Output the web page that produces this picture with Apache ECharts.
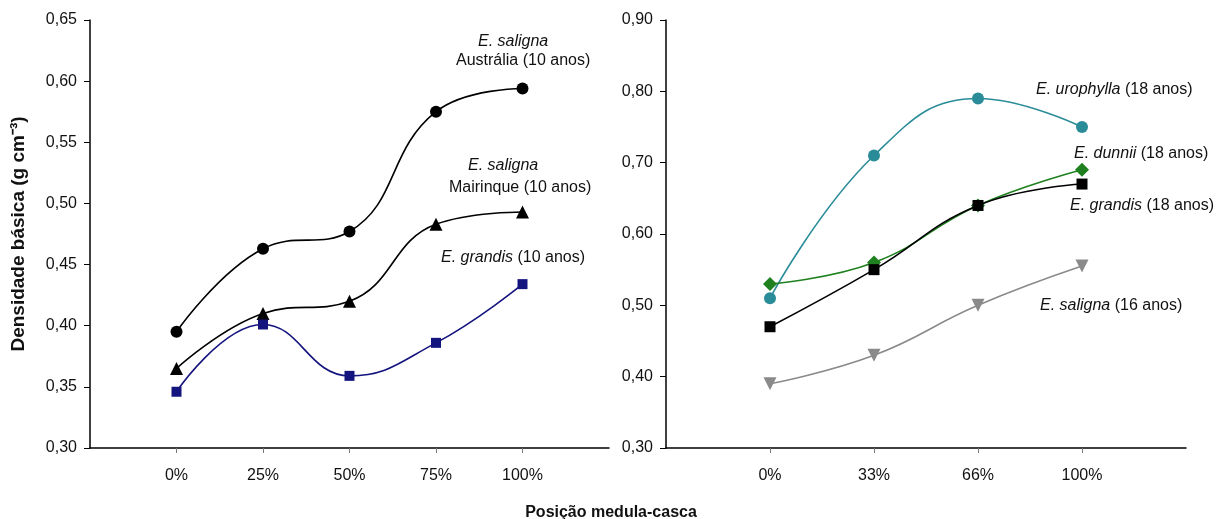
<!DOCTYPE html>
<html>
<head>
<meta charset="utf-8">
<script src="https://cdn.jsdelivr.net/npm/echarts@6/dist/echarts.min.js"></script>
<style>
html,body{margin:0;padding:0;background:#fff;}
#c{width:1222px;height:519px;}
</style>
</head>
<body>
<div id="c"></div>
<script>
// ---- data ----
const leftCategories = ['0%', '25%', '50%', '75%', '100%'];
const salignaAustralia = [0.395, 0.463, 0.477, 0.575, 0.594];
const salignaMairinque = [0.365, 0.410, 0.420, 0.483, 0.493];
const grandis10 = [0.346, 0.401, 0.359, 0.386, 0.434];

const rightCategories = ['0%', '33%', '66%', '100%'];
const urophylla18 = [0.510, 0.710, 0.790, 0.750];
const dunnii18 = [0.530, 0.560, 0.640, 0.690];
const grandis18 = [0.470, 0.550, 0.640, 0.670];
const saligna16 = [0.390, 0.430, 0.500, 0.555];

const leftYTicks = { min: 0.30, max: 0.65, interval: 0.05 };
const rightYTicks = { min: 0.30, max: 0.90, interval: 0.10 };

// ---- helpers ----
const FONT = "'Liberation Sans', Arial, sans-serif";
const pad = arr => [''].concat(arr, ['']);
const padVals = arr => [null].concat(arr);
const comma = v => v.toFixed(2).replace('.', ',');

function xAxis(cats, gridIndex) {
  const data = pad(cats);
  return {
    type: 'category', gridIndex, data, boundaryGap: false,
    axisLine: { lineStyle: { color: '#000', width: 1.5 } },
    axisTick: { show: true, length: 5, lineStyle: { color: '#777' },
      interval: (i) => i > 0 && i < data.length - 1 },
    axisLabel: { color: '#111', fontFamily: FONT, fontSize: 16, margin: 20,
      interval: 0 },
    splitLine: { show: false }
  };
}
function yAxis(t, gridIndex, extra) {
  return Object.assign({
    type: 'value', gridIndex, min: t.min, max: t.max, interval: t.interval,
    axisLine: { show: true, lineStyle: { color: '#000', width: 1.5 } },
    axisTick: { show: true, length: 6, lineStyle: { color: '#000' } },
    axisLabel: { color: '#111', fontFamily: FONT, fontSize: 16, margin: 13, formatter: comma },
    splitLine: { show: false }
  }, extra || {});
}
function line(name, vals, axisIdx, color, symbol, size, extra) {
  return Object.assign({
    name, type: 'line', xAxisIndex: axisIdx, yAxisIndex: axisIdx,
    data: padVals(vals), smooth: 0.45, symbol, symbolSize: size,
    lineStyle: { color, width: 1.6 }, itemStyle: { color },
    connectNulls: false
  }, extra || {});
}

function note(x, y, ital, rest) {
  return {
    type: 'text', left: x, top: y,
    style: {
      text: '{i|' + ital + '}' + (rest ? '{n|' + rest + '}' : ''),
      rich: {
        i: { fontFamily: FONT, fontSize: 16, fontStyle: 'italic', fill: '#111' },
        n: { fontFamily: FONT, fontSize: 16, fill: '#111' }
      }
    }
  };
}
function plain(x, y, t) {
  return { type: 'text', left: x, top: y,
    style: { text: t, fontFamily: FONT, fontSize: 16, fill: '#111' } };
}

const chart = echarts.init(document.getElementById('c'), null, { renderer: 'canvas' });
chart.setOption({
  animation: false,
  backgroundColor: '#fff',
  title: {
    text: 'Posição medula-casca', left: 'center', top: 500,
    textStyle: { fontFamily: FONT, fontSize: 16, fontWeight: 'bold', color: '#111' }
  },
  grid: [
    { left: 90, right: 613, top: 20, bottom: 71 },
    { left: 666, right: 36, top: 20, bottom: 71 }
  ],
  xAxis: [xAxis(leftCategories, 0), xAxis(rightCategories, 1)],
  yAxis: [
    yAxis(leftYTicks, 0, {
      name: 'Densidade básica (g cm⁻³)', nameLocation: 'middle', nameGap: 62,
      nameRotate: 90,
      nameTextStyle: { fontFamily: FONT, fontSize: 19, fontWeight: 'bold', color: '#111' }
    }),
    yAxis(rightYTicks, 1)
  ],
  series: [
    line('E. saligna Austrália (10 anos)', salignaAustralia, 0, '#000', 'circle', 12),
    line('E. saligna Mairinque (10 anos)', salignaMairinque, 0, '#000', 'triangle', 13),
    line('E. grandis (10 anos)', grandis10, 0, '#14147f', 'rect', 10),
    line('E. urophylla (18 anos)', urophylla18, 1, '#2a8c98', 'circle', 12),
    line('E. dunnii (18 anos)', dunnii18, 1, '#1e801e', 'diamond', 14),
    line('E. grandis (18 anos)', grandis18, 1, '#000', 'rect', 11),
    line('E. saligna (16 anos)', saligna16, 1, '#8a8a8a', 'triangle', 13, { symbolRotate: 180 })
  ],
  graphic: [
    note(478, 34, 'E. saligna', ''),
    plain(456, 53, 'Austrália (10 anos)'),
    note(468, 158, 'E. saligna', ''),
    plain(449, 180, 'Mairinque (10 anos)'),
    note(441, 250, 'E. grandis', ' (10 anos)'),
    note(1036, 82, 'E. urophylla', ' (18 anos)'),
    note(1074, 146, 'E. dunnii', ' (18 anos)'),
    note(1070, 198, 'E. grandis', ' (18 anos)'),
    note(1040, 298, 'E. saligna', ' (16 anos)')
  ]
});
</script>
</body>
</html>
